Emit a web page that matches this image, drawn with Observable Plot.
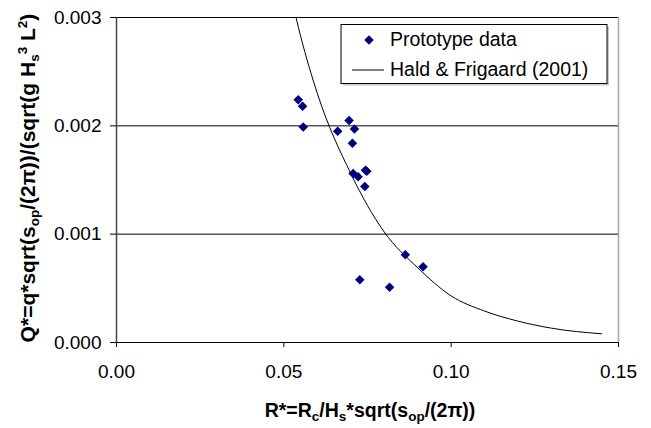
<!DOCTYPE html>
<html><head><meta charset="utf-8">
<script src="https://cdn.jsdelivr.net/npm/d3@7"></script>
<script src="https://cdn.jsdelivr.net/npm/@observablehq/plot@0.6"></script>
<style>
html,body{margin:0;padding:0;background:#fff;}
#wrap{width:651px;height:428px;overflow:hidden;}
#wrap svg{max-width:none !important;width:651px;height:428px;}
</style></head><body><div id="wrap"></div>
<script>
// Prototype data
const protoR = [0.0543,0.0556,0.0558,0.0661,0.0695,0.0711,0.0705,0.0707,0.0722,0.0744,0.0748,0.0742,0.0727,0.0816,0.0863,0.0916];
const protoQ = [0.00224,0.00218,0.00199,0.00195,0.00205,0.00197,0.00184,0.00156,0.00153,0.00159,0.00158,0.00144,0.00058,0.00051,0.00081,0.00070];
// Hald & Frigaard (2001) curve
const curveR = [0.05,0.055,0.06,0.07,0.08,0.09,0.10,0.11,0.12,0.13,0.145];
const curveQ = [0.0035,0.00283,0.0023,0.00156,0.00102,0.00069,0.00043,0.00029,0.000197,0.000132,0.00008];
const xTicks = [0,0.05,0.10,0.15];
const yTicks = [0,0.001,0.002,0.003];
const legendLabels = ["Prototype data","Hald & Frigaard (2001)"];

const proto = protoR.map((r,i)=>({r, q: protoQ[i]}));
const curve = curveR.map((r,i)=>({r, q: curveQ[i]}));

const font = "'Liberation Sans', Arial, sans-serif";
const chart = Plot.plot({
  width: 651, height: 428,
  marginLeft: 116, marginRight: 33, marginTop: 17, marginBottom: 86,
  style: {fontFamily: font, fontSize: "19px", color: "#000", background: "#fff", overflow: "visible"},
  x: {domain: [0, 0.15]},
  y: {domain: [0, 0.003]},
  marks: [
    Plot.ruleY(yTicks.slice(1), {stroke: "#000", strokeWidth: 1}),
    Plot.ruleX([0.15], {stroke: "#a6a6a6", strokeWidth: 1.5}),
    Plot.line(curve, {x: "r", y: "q", stroke: "#000", strokeWidth: 1, clip: true, curve: "monotone-x"}),
    Plot.dot(proto, {x: "r", y: "q", symbol: "diamond2", r: 4.3, fill: "#000080", stroke: "none"}),
    Plot.ruleY([0], {stroke: "#000", strokeWidth: 1}),
    Plot.ruleX([0], {stroke: "#444", strokeWidth: 1.5}),
    Plot.axisY({ticks: yTicks, tickFormat: d3.format(".3f"), tickSize: 6, tickPadding: 9, label: null, stroke: "#000"}),
    Plot.axisX({ticks: xTicks, tickFormat: d3.format(".2f"), tickSize: 5, tickPadding: 17, label: null, stroke: "#000"})
  ]
});
document.getElementById("wrap").appendChild(chart);

const svg = d3.select(chart);
// Legend
const lg = svg.append("g").attr("text-anchor", "start");
lg.append("rect").attr("x", 343).attr("y", 26.5).attr("width", 266).attr("height", 59).attr("fill", "#c8c8c8");
lg.append("rect").attr("x", 341).attr("y", 24.5).attr("width", 266).attr("height", 59).attr("fill", "#fff").attr("stroke", "#000").attr("stroke-width", 1);
lg.append("path").attr("transform", "translate(369,40)").attr("d", d3.symbol(d3.symbolDiamond2, Math.PI*4.3*4.3)()).attr("fill", "#000080");
lg.append("line").attr("x1", 352).attr("x2", 384).attr("y1", 70).attr("y2", 70).attr("stroke", "#000");
lg.selectAll("text.lab").data(legendLabels).join("text").attr("class","lab")
  .attr("x", 390).attr("y", (d,i)=> i===0 ? 46 : 76).attr("text-anchor", "start")
  .attr("font-family", font).attr("font-size", 19.5).attr("fill", "#000").text(d=>d);

function rich(parent, parts) {
  for (const [t, kind] of parts) {
    const ts = parent.append("tspan").text(t);
    if (kind === "sub") ts.attr("font-size", 13.5).attr("dy", 4);
    else if (kind === "subend") ts.attr("dy", -4);
    else if (kind === "sup") ts.attr("font-size", 13.5).attr("dy", -12);
    else if (kind === "supA") ts.attr("font-size", 13.5).attr("dy", -8);
    else if (kind === "back8") ts.attr("dy", 8);
  }
}
// X title
const xt = svg.append("text").attr("x", 370).attr("y", 417).attr("text-anchor", "middle")
  .attr("font-family", font).attr("font-size", 19.5).attr("font-weight", "bold").attr("fill", "#000");
rich(xt, [["R*=R",""],["c","sub"],["/H","subend"],["s","sub"],["*sqrt(s","subend"],["op","sub"],["/(2π))","subend"]]);
// Y title
const yt = svg.append("text").attr("transform", "translate(35,178) rotate(-90)").attr("text-anchor", "middle")
  .attr("font-family", font).attr("font-size", 21).attr("font-weight", "bold").attr("fill", "#000");
rich(yt, [["Q*=q*sqrt(s",""],["op","sub"],["/(2π))/(sqrt(g H","subend"],["s","sub"],["3","sup"],[" L","back8"],["2","supA"],[")","back8"]]);
</script></body></html>
